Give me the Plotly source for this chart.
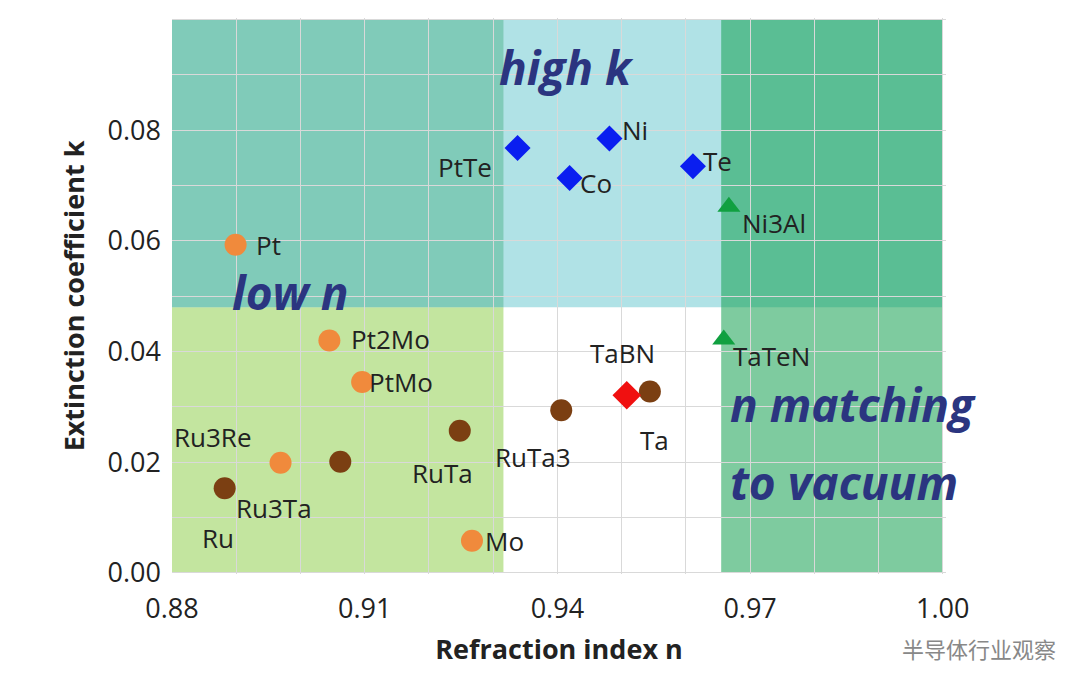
import plotly.graph_objects as go

# orange circles
org_names = ["Pt", "Pt2Mo", "PtMo", "Ru3Re", "Mo"]
org_n = [0.8899, 0.9045, 0.9096, 0.8969, 0.9267]
org_k = [0.0593, 0.0420, 0.0345, 0.0199, 0.0058]
# brown circles
brn_names = ["Ru", "Ru3Ta", "RuTa", "RuTa3", "Ta"]
brn_n = [0.8882, 0.9062, 0.9248, 0.9406, 0.9544]
brn_k = [0.0153, 0.0201, 0.0257, 0.0294, 0.0328]
# red diamond
red_names = ["TaBN"]
red_n = [0.9508]
red_k = [0.0321]
# blue diamonds
blu_names = ["PtTe", "Co", "Ni", "Te"]
blu_n = [0.9338, 0.9419, 0.9481, 0.9611]
blu_k = [0.0768, 0.0714, 0.0785, 0.0735]
# green triangles
grn_names = ["Ni3Al", "TaTeN"]
grn_n = [0.9667, 0.9659]
grn_k = [0.0662, 0.0422]

# label positions (n, k) for each material
lbl_text = ["Pt", "Pt2Mo", "PtMo", "Ru3Re", "Mo", "Ru", "Ru3Ta", "RuTa", "RuTa3", "Ta",
            "TaBN", "PtTe", "Co", "Ni", "Te", "Ni3Al", "TaTeN"]
lbl_n = [0.8928, 0.9075, 0.9103, 0.8800, 0.9284, 0.8843, 0.8896, 0.9170, 0.9300, 0.9526,
         0.9448, 0.9211, 0.9432, 0.9497, 0.9623, 0.9684, 0.9670]
lbl_k = [0.0593, 0.0422, 0.0345, 0.0245, 0.0058, 0.0063, 0.0117, 0.0180, 0.0210, 0.0240,
         0.0398, 0.0733, 0.0705, 0.0800, 0.0745, 0.0632, 0.0392]

fig = go.Figure()

shape_list = [
    (0.88, 0.9316, 0.0, 0.048, "rgba(146,208,80,0.55)"),
    (0.88, 1.0, 0.048, 0.10, "rgba(80,190,200,0.45)"),
    (0.9655, 1.0, 0.0, 0.10, "rgba(20,160,80,0.55)"),
    (0.88, 0.9316, 0.048, 0.10, "rgba(40,160,100,0.35)"),
]
for x0, x1, y0, y1, c in shape_list:
    fig.add_shape(type="rect", x0=x0, x1=x1, y0=y0, y1=y1, fillcolor=c,
                  line_width=0, layer="below")

def pts(x, y, color, symbol, size):
    fig.add_trace(go.Scatter(x=x, y=y, mode="markers", showlegend=False,
                             marker=dict(color=color, symbol=symbol, size=size)))

pts(org_n, org_k, "#F08A3C", "circle", 22)
pts(brn_n, brn_k, "#7B3F12", "circle", 22)
pts(red_n, red_k, "#F01010", "diamond", 22)
pts(blu_n, blu_k, "#0A1EF0", "diamond", 20)
pts(grn_n, grn_k, "#10A040", "triangle-up", 20)

for t, x, y in zip(lbl_text, lbl_n, lbl_k):
    fig.add_annotation(x=x, y=y, text=t, showarrow=False, xanchor="left",
                       font=dict(size=26, color="#222"))

big = dict(size=46, color="#2B3580", family="Open Sans")
fig.add_annotation(x=0.9414, y=0.0915, text="<b><i>high k</i></b>", showarrow=False, font=big)
fig.add_annotation(x=0.8985, y=0.0507, text="<b><i>low n</i></b>", showarrow=False, font=big)
fig.add_annotation(x=0.9666, y=0.0305, text="<b><i>n matching</i></b>", showarrow=False,
                   xanchor="left", font=big)
fig.add_annotation(x=0.9666, y=0.0165, text="<b><i>to vacuum</i></b>", showarrow=False,
                   xanchor="left", font=big)
fig.add_annotation(xref="paper", yref="paper", x=1.145, y=-0.165, text="半导体行业观察",
                   showarrow=False, xanchor="right",
                   font=dict(size=22, color="#888", family="Noto Sans CJK SC"))

fig.update_xaxes(range=[0.88, 1.0005], tickvals=[0.88, 0.91, 0.94, 0.97, 1.00],
                 ticktext=["0.88", "0.91", "0.94", "0.97", "1.00"],
                 showgrid=True, gridcolor="#d9d9d9", zeroline=False,
                 minor=dict(dtick=0.01, showgrid=True, gridcolor="#d9d9d9"),
                 tickfont=dict(size=27, color="#222"), ticklabelstandoff=16,
                 title=dict(text="<b>Refraction index n</b>", font=dict(size=27, color="#222")),
                 showline=False)
fig.update_yaxes(range=[-0.0002, 0.1003], tickvals=[0, 0.02, 0.04, 0.06, 0.08, 0.10],
                 ticktext=["0.00", "0.02", "0.04", "0.06", "0.08", "0.10"],
                 showgrid=True, gridcolor="#d9d9d9", zeroline=False,
                 minor=dict(dtick=0.01, showgrid=True, gridcolor="#d9d9d9"),
                 tickfont=dict(size=27, color="#222"), ticklabelstandoff=10,
                 title=dict(text="<b>Extinction coefficient k</b>", font=dict(size=27, color="#222")))

fig.update_layout(width=1080, height=699, plot_bgcolor="white", paper_bgcolor="white",
                  margin=dict(l=164, r=142, t=10, b=133),
                  font=dict(family="Open Sans"))

fig.write_html("out.html")
